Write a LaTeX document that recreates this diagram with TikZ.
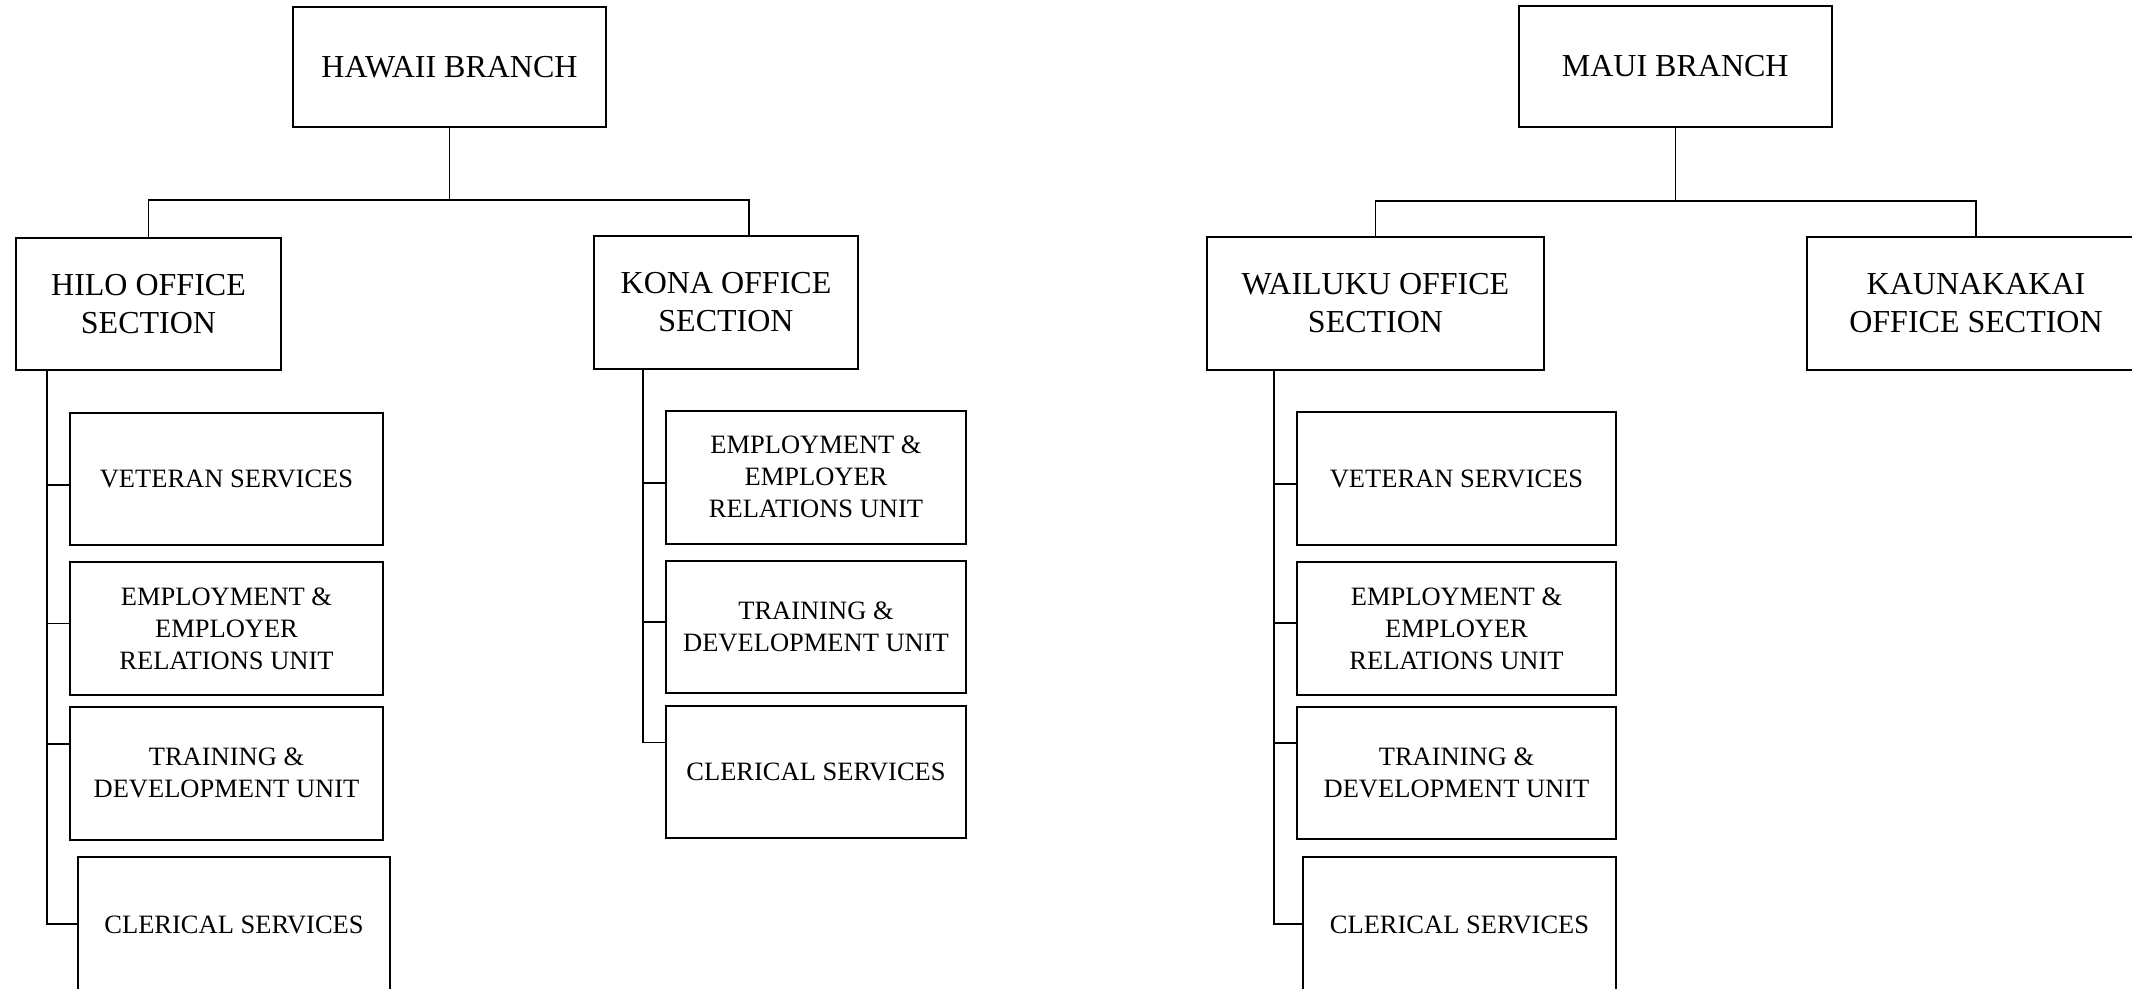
\documentclass[tikz,border=0pt]{standalone}
\usepackage{fontspec}
\setmainfont{Liberation Serif}
\begin{document}
\begin{tikzpicture}[x=1pt,y=-1pt,
  bx/.style={draw, line width=2pt, inner sep=0pt, align=center},
  big/.style={bx, font=\fontsize{32}{38}\selectfont},
  unit/.style={bx, font=\fontsize{26.5}{32}\selectfont},
  con/.style={line width=1.4pt}]
\clip (0,0) rectangle (2132,988);
\fill[white] (0,0) rectangle (2132,988);
% ---------- HAWAII ----------
\node[big, minimum width=313pt, minimum height=120pt] (hawaii) at (449.5,67) {HAWAII BRANCH};
\node[big, minimum width=265pt, minimum height=132pt] (hilo) at (148.5,304) {HILO OFFICE\\SECTION};
\node[big, minimum width=264pt, minimum height=133pt] (kona) at (726,302.5) {KONA OFFICE\\SECTION};
\node[unit, minimum width=313pt, minimum height=132pt] (hvet) at (226.5,479) {VETERAN SERVICES};
\node[unit, minimum width=313pt, minimum height=133pt] (hemp) at (226.5,628.5) {EMPLOYMENT \&\\EMPLOYER\\RELATIONS UNIT};
\node[unit, minimum width=313pt, minimum height=133pt] (htrn) at (226.5,773) {TRAINING \&\\DEVELOPMENT UNIT};
\node[unit, minimum width=312pt, minimum height=136pt] (hcler) at (234,925) {CLERICAL SERVICES};
\node[unit, minimum width=300pt, minimum height=132.6pt] (kemp) at (816,477.3) {EMPLOYMENT \&\\EMPLOYER\\RELATIONS UNIT};
\node[unit, minimum width=300pt, minimum height=132pt] (ktrn) at (816,627) {TRAINING \&\\DEVELOPMENT UNIT};
\node[unit, minimum width=300pt, minimum height=132.3pt] (kcler) at (816,772) {CLERICAL SERVICES};
% ---------- MAUI ----------
\node[big, minimum width=312.5pt, minimum height=121pt] (maui) at (1675.25,66.5) {MAUI BRANCH};
\node[big, minimum width=337pt, minimum height=133pt] (wail) at (1375.5,303.5) {WAILUKU OFFICE\\SECTION};
\node[big, minimum width=338pt, minimum height=133.3pt] (kau) at (1976,303.35) {KAUNAKAKAI\\OFFICE SECTION};
\node[unit, minimum width=319pt, minimum height=133pt] (mvet) at (1456.5,478.5) {VETERAN SERVICES};
\node[unit, minimum width=319pt, minimum height=133pt] (memp) at (1456.5,628.5) {EMPLOYMENT \&\\EMPLOYER\\RELATIONS UNIT};
\node[unit, minimum width=319pt, minimum height=132.5pt] (mtrn) at (1456.5,773) {TRAINING \&\\DEVELOPMENT UNIT};
\node[unit, minimum width=313pt, minimum height=136pt] (mcler) at (1459.5,925) {CLERICAL SERVICES};
% ---------- connectors: Hawaii ----------
\coordinate (hbar) at (449.5,200);
\coordinate (kdrop) at (749,236);
\draw[con] (hawaii.south) -- (hbar);
\draw[con] (hilo.north) |- (hbar);
\draw[con] (hbar) -| (kdrop);
\coordinate (ht1) at (47,485);
\coordinate (ht2) at (47,623.5);
\coordinate (ht3) at (47,744);
\coordinate (ht4) at (47,924);
\draw[con] (hilo.south -| ht4) -- (ht4) -- (hcler.west |- ht4);
\draw[con] (ht1) -- (hvet.west |- ht1);
\draw[con] (ht2) -- (hemp.west |- ht2);
\draw[con] (ht3) -- (htrn.west |- ht3);
\coordinate (kt1) at (643,483);
\coordinate (kt2) at (643,622);
\coordinate (kt3) at (643,742.5);
\draw[con] (kona.south -| kt3) -- (kt3) -- (kcler.west |- kt3);
\draw[con] (kt1) -- (kemp.west |- kt1);
\draw[con] (kt2) -- (ktrn.west |- kt2);
% ---------- connectors: Maui ----------
\coordinate (mbar) at (1675.25,201);
\coordinate (kaudrop) at (1976,236.7);
\draw[con] (maui.south) -- (mbar);
\draw[con] (wail.north) |- (mbar);
\draw[con] (mbar) -| (kaudrop);
\coordinate (mt1) at (1274,484);
\coordinate (mt2) at (1274,623);
\coordinate (mt3) at (1274,743);
\coordinate (mt4) at (1274,924);
\draw[con] (wail.south -| mt4) -- (mt4) -- (mcler.west |- mt4);
\draw[con] (mt1) -- (mvet.west |- mt1);
\draw[con] (mt2) -- (memp.west |- mt2);
\draw[con] (mt3) -- (mtrn.west |- mt3);
\end{tikzpicture}
\end{document}
